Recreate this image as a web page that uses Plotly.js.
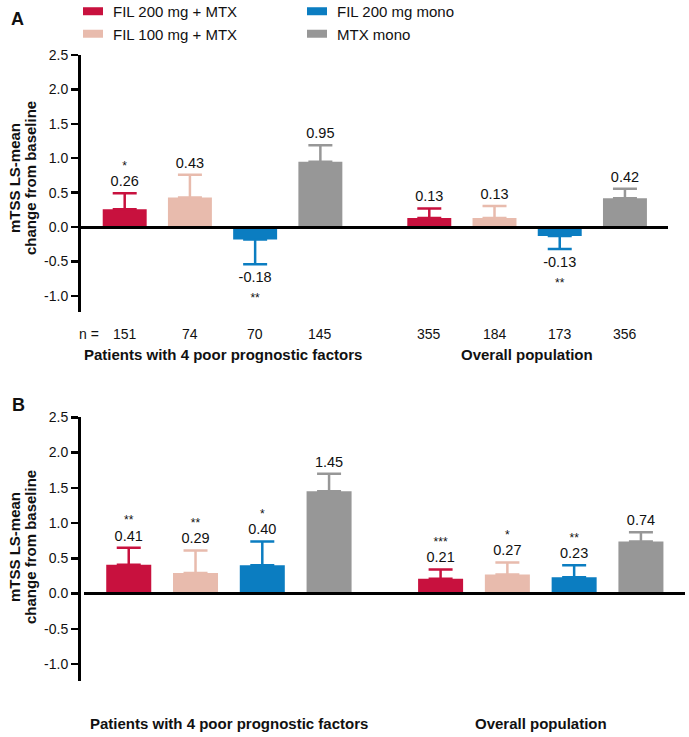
<!DOCTYPE html>
<html>
<head>
<meta charset="utf-8">
<script src="https://cdn.plot.ly/plotly-3.0.1.min.js"></script>
<style>html,body{margin:0;padding:0;background:#fff;}#chart{width:689px;height:737px;}</style>
</head>
<body>
<div id="chart"></div>
<script>
// ---------- data ----------
var seriesNames = ["FIL 200 mg + MTX", "FIL 100 mg + MTX", "FIL 200 mg mono", "MTX mono"];
var categories = ["Patients with 4 poor prognostic factors", "Overall population"];

// Panel A
var A_fil200mtx  = [0.26, 0.13];
var A_fil100mtx  = [0.43, 0.13];
var A_fil200mono = [-0.18, -0.13];
var A_mtxmono    = [0.95, 0.42];
var A_err_fil200mtx  = [0.23, 0.14];
var A_err_fil100mtx  = [0.33, 0.175];
var A_err_fil200mono = [0.36, 0.19];
var A_err_mtxmono    = [0.24, 0.135];
var A_stars_fil200mtx  = ["*", ""];
var A_stars_fil100mtx  = ["", ""];
var A_stars_fil200mono = ["**", "**"];
var A_stars_mtxmono    = ["", ""];
var A_n_fil200mtx  = [151, 355];
var A_n_fil100mtx  = [74, 184];
var A_n_fil200mono = [70, 173];
var A_n_mtxmono    = [145, 356];

// Panel B
var B_fil200mtx  = [0.41, 0.21];
var B_fil100mtx  = [0.29, 0.27];
var B_fil200mono = [0.40, 0.23];
var B_mtxmono    = [1.45, 0.74];
var B_err_fil200mtx  = [0.24, 0.13];
var B_err_fil100mtx  = [0.32, 0.17];
var B_err_fil200mono = [0.34, 0.17];
var B_err_mtxmono    = [0.25, 0.13];
var B_stars_fil200mtx  = ["**", "***"];
var B_stars_fil100mtx  = ["**", "*"];
var B_stars_fil200mono = ["*", "**"];
var B_stars_mtxmono    = ["", ""];

var yTickVals = [-1.0, -0.5, 0.0, 0.5, 1.0, 1.5, 2.0, 2.5];
var yTickText = ["-1.0", "-0.5", "0.0", "0.5", "1.0", "1.5", "2.0", "2.5"];

// ---------- styling ----------
var colors = ["#C8113E", "#E8BBAD", "#0B7DC1", "#979797"];
var FONT = "Liberation Sans, Arial, Helvetica, sans-serif";
var GROUP_STEP = 4.67;
var BAR_W = 0.674;

var panels = [
  {vals: [A_fil200mtx, A_fil100mtx, A_fil200mono, A_mtxmono],
   errs: [A_err_fil200mtx, A_err_fil100mtx, A_err_fil200mono, A_err_mtxmono],
   stars: [A_stars_fil200mtx, A_stars_fil100mtx, A_stars_fil200mono, A_stars_mtxmono],
   xa: "x", ya: "y", legend: true},
  {vals: [B_fil200mtx, B_fil100mtx, B_fil200mono, B_mtxmono],
   errs: [B_err_fil200mtx, B_err_fil100mtx, B_err_fil200mono, B_err_mtxmono],
   stars: [B_stars_fil200mtx, B_stars_fil100mtx, B_stars_fil200mono, B_stars_mtxmono],
   xa: "x2", ya: "y2", legend: false}
];
var nCounts = [A_n_fil200mtx, A_n_fil100mtx, A_n_fil200mono, A_n_mtxmono];

function xPos(i) { return categories.map(function (c, g) { return i + g * GROUP_STEP; }); }

var traces = [];
panels.forEach(function (p) {
  seriesNames.forEach(function (name, i) {
    var v = p.vals[i], e = p.errs[i];
    var plus = v.map(function (val, k) { return val >= 0 ? e[k] : 0; });
    var minus = v.map(function (val, k) { return val < 0 ? e[k] : 0; });
    traces.push({
      type: "bar", name: name, x: xPos(i), y: v, width: BAR_W,
      xaxis: p.xa, yaxis: p.ya,
      marker: {color: colors[i], line: {width: 0}},
      error_y: {type: "data", symmetric: false, array: plus, arrayminus: minus,
                color: colors[i], thickness: 2.5, width: 12},
      showlegend: p.legend, legend: (i < 2 ? "legend" : "legend2"),
      hoverinfo: "skip"
    });
  });
});
// value labels and significance stars (placed at the error-bar end)
function labelTrace(p, x, y, txt, pos, msize, fsize) {
  return {
    type: "scatter", mode: "markers+text", x: [x], y: [y],
    marker: {size: msize, opacity: 0},
    text: [txt], textposition: pos ? "top center" : "bottom center",
    textfont: {family: FONT, size: fsize, color: "#111"},
    xaxis: p.xa, yaxis: p.ya, showlegend: false, cliponaxis: false, hoverinfo: "skip"
  };
}
panels.forEach(function (p) {
  seriesNames.forEach(function (name, i) {
    var v = p.vals[i], e = p.errs[i], s = p.stars[i];
    v.forEach(function (val, k) {
      var pos = val >= 0;
      var x = xPos(i)[k];
      var yEnd = pos ? val + e[k] : val - e[k];
      traces.push(labelTrace(p, x, yEnd, val.toFixed(2), pos, pos ? 4 : 10, 14.5));
      if (s[k]) traces.push(labelTrace(p, x, yEnd, s[k], pos, pos ? 31 : 44, 12));
    });
  });
});

function yaxis(domain) {
  return {domain: domain, range: [-1.23, 2.5], showgrid: false,
    showline: true, linecolor: "#000", linewidth: 3,
    ticks: "outside", ticklen: 7, tickwidth: 2.5, tickcolor: "#000",
    tickvals: yTickVals, ticktext: yTickText,
    tickfont: {family: FONT, size: 14, color: "#111"},
    layer: "above traces", zerolinelayer: "above traces",
    zeroline: true, zerolinecolor: "#000", zerolinewidth: 3, fixedrange: true};
}
function xaxis(domain, anchor) {
  return {domain: domain, range: [-0.67, 8.33], anchor: anchor, showgrid: false,
    showline: false, zeroline: false, showticklabels: false, ticks: "", fixedrange: true};
}

var W = 689, H = 737;
function px(x) { return x / W; }
function py(y) { return (H - y) / H; }

var annotations = [];
// n row
annotations.push({xref: "paper", yref: "paper", x: px(77), y: py(334), xanchor: "left", yanchor: "middle",
  text: "n =", showarrow: false, font: {family: FONT, size: 14, color: "#111"}});
nCounts.forEach(function (arr, i) {
  arr.forEach(function (n, g) {
    annotations.push({xref: "x", yref: "paper", x: xPos(i)[g], y: py(334), xanchor: "center", yanchor: "middle",
      text: String(n), showarrow: false, font: {family: FONT, size: 14, color: "#111"}});
  });
});
// category labels
categories.forEach(function (c, g) {
  annotations.push({xref: "x", yref: "paper", x: 1.5 + g * GROUP_STEP, y: py(354), xanchor: "center", yanchor: "middle",
    text: "<b>" + c + "</b>", showarrow: false, font: {family: FONT, size: 15, color: "#111"}});
  annotations.push({xref: "x2", yref: "paper", x: 1.5 + g * GROUP_STEP, y: py(723), xanchor: "center", yanchor: "middle",
    text: "<b>" + c + "</b>", showarrow: false, font: {family: FONT, size: 15, color: "#111"}});
});
// y titles
[178, 547].forEach(function (yc) {
  annotations.push({xref: "paper", yref: "paper", x: px(14), y: py(yc), xanchor: "center", yanchor: "middle",
    textangle: -90, text: "<b>mTSS LS-mean</b>", showarrow: false, font: {family: FONT, size: 15, color: "#111"}});
  annotations.push({xref: "paper", yref: "paper", x: px(30), y: py(yc), xanchor: "center", yanchor: "middle",
    textangle: -90, text: "<b>change from baseline</b>", showarrow: false, font: {family: FONT, size: 15, color: "#111"}});
});
// panel letters
annotations.push({xref: "paper", yref: "paper", x: px(17), y: py(19), xanchor: "center", yanchor: "middle",
  text: "<b>A</b>", showarrow: false, font: {family: FONT, size: 18, color: "#111"}});
annotations.push({xref: "paper", yref: "paper", x: px(18), y: py(405), xanchor: "center", yanchor: "middle",
  text: "<b>B</b>", showarrow: false, font: {family: FONT, size: 18, color: "#111"}});

var layout = {
  width: W, height: H, margin: {l: 0, r: 0, t: 0, b: 0, autoexpand: false},
  paper_bgcolor: "#fff", plot_bgcolor: "rgba(0,0,0,0)",
  barmode: "overlay",
  font: {family: FONT, color: "#111"},
  xaxis: xaxis([px(81), px(668)], "y"),
  yaxis: yaxis([py(311.7), py(55)]),
  xaxis2: xaxis([px(84), px(685)], "y2"),
  yaxis2: yaxis([py(681), py(417.3)]),
  legend: {x: px(73), xanchor: "left", y: 1.0068, yanchor: "top", font: {family: FONT, size: 15, color: "#111"},
    bgcolor: "rgba(0,0,0,0)", borderwidth: 0, traceorder: "normal"},
  legend2: {x: px(297), xanchor: "left", y: 1.0068, yanchor: "top", font: {family: FONT, size: 15, color: "#111"},
    bgcolor: "rgba(0,0,0,0)", borderwidth: 0, traceorder: "normal"},
  annotations: annotations,
  showlegend: true
};
layout.yaxis2.range = [-1.24, 2.5];

Plotly.newPlot("chart", traces, layout, {displayModeBar: false, staticPlot: true}).then(function () {
  // legend swatches drawn as wide flat rectangles, as in the reference
  document.querySelectorAll("g.legendpoints path").forEach(function (el) {
    el.setAttribute("d", "M10,4H-10V-4H10Z");
  });
});
</script>
</body>
</html>
